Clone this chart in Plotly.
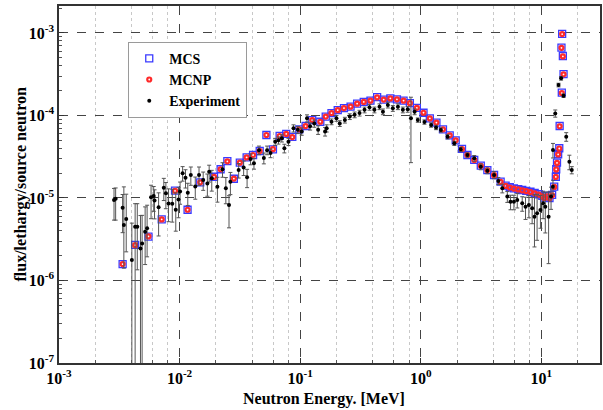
import plotly.graph_objects as go

# ---- simulation data (MCS / MCNP) ----
sim_energy = [0.00337, 0.00428, 0.00552, 0.00711, 0.00917, 0.01165, 0.01483, 0.0193, 0.0219, 0.0249,
              0.0282, 0.0316, 0.036, 0.0407, 0.0462, 0.0525, 0.0595, 0.0676, 0.0767, 0.0861,
              0.0984, 0.111, 0.126, 0.147, 0.163, 0.182, 0.205, 0.231, 0.262, 0.297,
              0.337, 0.383, 0.435, 0.493, 0.56, 0.635, 0.721, 0.813, 0.929, 1.055,
              1.19, 1.35, 1.53, 1.74, 1.95, 2.20, 2.44, 2.78, 3.15, 3.57,
              4.06, 4.60, 5.06, 5.48, 5.93, 6.44, 6.95, 7.50, 8.13, 8.81,
              9.53, 10.2, 10.6, 11.2, 11.7, 12.3, 12.8, 13.2, 13.3, 13.5,
              13.8, 14.1, 14.2, 14.8, 15.3, 15.1, 14.7, 14.9]
mcs_flux = [1.58e-6, 2.7e-6, 3.4e-6, 5.5e-6, 1.23e-5, 7.2e-6, 1.55e-5, 1.81e-5, 2.23e-5, 2.79e-5,
            1.71e-5, 2.68e-5, 3.11e-5, 3.32e-5, 3.71e-5, 5.8e-5, 3.89e-5, 5.65e-5, 5.97e-5, 5.49e-5,
            6.8e-5, 7.46e-5, 8.8e-5, 8.4e-5, 9.7e-5, 1.07e-4, 1.16e-4, 1.23e-4, 1.28e-4, 1.39e-4,
            1.46e-4, 1.51e-4, 1.67e-4, 1.56e-4, 1.61e-4, 1.57e-4, 1.51e-4, 1.41e-4, 1.24e-4, 1.08e-4,
            9.25e-5, 8.2e-5, 6.8e-5, 5.75e-5, 5.0e-5, 3.93e-5, 3.32e-5, 2.89e-5, 2.47e-5, 2.18e-5,
            1.90e-5, 1.58e-5, 1.41e-5, 1.35e-5, 1.31e-5, 1.28e-5, 1.25e-5, 1.22e-5, 1.19e-5, 1.15e-5,
            1.11e-5, 1.06e-5, 1.01e-5, 1.06e-5, 1.0e-5, 1.09e-5, 1.37e-5, 1.81e-5, 2.23e-5, 2.68e-5,
            3.39e-5, 4.01e-5, 7.46e-5, 1.89e-4, 3.18e-4, 5.26e-4, 6.64e-4, 9.73e-4]
mcnp_flux = [1.58e-6, 2.68e-6, 3.42e-6, 5.5e-6, 1.22e-5, 7.2e-6, 1.55e-5, 1.80e-5, 2.23e-5, 2.78e-5,
             1.72e-5, 2.68e-5, 3.10e-5, 3.32e-5, 3.70e-5, 5.8e-5, 3.90e-5, 5.64e-5, 5.97e-5, 5.48e-5,
             6.8e-5, 7.44e-5, 8.8e-5, 8.4e-5, 9.7e-5, 1.07e-4, 1.16e-4, 1.23e-4, 1.28e-4, 1.39e-4,
             1.46e-4, 1.51e-4, 1.66e-4, 1.56e-4, 1.61e-4, 1.57e-4, 1.51e-4, 1.41e-4, 1.24e-4, 1.08e-4,
             9.2e-5, 8.2e-5, 6.8e-5, 5.75e-5, 5.0e-5, 3.92e-5, 3.31e-5, 2.88e-5, 2.46e-5, 2.17e-5,
             1.89e-5, 1.57e-5, 1.40e-5, 1.34e-5, 1.30e-5, 1.27e-5, 1.24e-5, 1.21e-5, 1.18e-5, 1.14e-5,
             1.10e-5, 1.05e-5, 1.0e-5, 1.05e-5, 0.99e-5, 1.08e-5, 1.36e-5, 1.80e-5, 2.22e-5, 2.66e-5,
             3.37e-5, 3.98e-5, 7.4e-5, 1.87e-4, 3.15e-4, 5.2e-4, 6.6e-4, 9.7e-4]

# ---- experiment data ----
exp_energy = [0.00286, 0.00295, 0.00337, 0.00345, 0.00361, 0.00402, 0.00428, 0.00446, 0.00474, 0.00489,
              0.00518, 0.00538, 0.0058, 0.0061, 0.0062, 0.0067, 0.0074, 0.0077, 0.0081, 0.0087,
              0.0093, 0.0098, 0.0101, 0.0106, 0.0112, 0.0117, 0.0124, 0.0135, 0.0145, 0.0157,
              0.0170, 0.0176, 0.0185, 0.0206, 0.0227, 0.0242, 0.0257, 0.0264, 0.0309, 0.034,
              0.0363, 0.0388, 0.0414, 0.0456, 0.05, 0.0532, 0.0568, 0.0621, 0.0661, 0.0705,
              0.074, 0.08, 0.0881, 0.0957, 0.103, 0.114, 0.121, 0.131, 0.141, 0.161,
              0.166, 0.182, 0.2, 0.213, 0.235, 0.258, 0.283, 0.311, 0.342, 0.376,
              0.413, 0.455, 0.486, 0.534, 0.587, 0.647, 0.711, 0.78, 0.83, 0.89,
              0.946, 1.074, 1.22, 1.34, 1.47, 1.67, 1.90, 2.15, 2.44, 2.78,
              3.15, 3.57, 4.06, 4.40, 4.75, 5.23, 5.56, 5.93, 6.32, 6.95,
              7.40, 7.89, 8.40, 8.78, 9.23, 9.84, 10.35, 10.8, 11.5, 12.05,
              12.5, 12.5, 13.06, 13.9, 14.6, 15.3, 16.1, 17.1, 17.9]
exp_flux = [9.46e-6, 9.8e-6, 7.6e-6, 4.7e-6, 5.56e-6, 1.77e-6, 4.49e-6, 4.49e-6, 2.45e-6, 2.8e-6,
            3.9e-6, 4.3e-6, 1.02e-5, 1.06e-5, 9.3e-6, 7.7e-6, 1.33e-5, 1.14e-5, 8.6e-6, 8.5e-6,
            7.2e-6, 9.6e-6, 1.2e-5, 2.0e-5, 1.76e-5, 1.16e-5, 1.9e-5, 1.38e-5, 1.9e-5, 1.65e-5,
            1.5e-5, 2.08e-5, 1.73e-5, 1.37e-5, 2.23e-5, 1.31e-5, 8.2e-6, 1.57e-5, 2.18e-5, 2.34e-5,
            1.78e-5, 2.97e-5, 2.63e-5, 3.8e-5, 3.05e-5, 3.8e-5, 3.5e-5, 4.8e-5, 5.0e-5, 5.3e-5,
            4.0e-5, 4.8e-5, 7.0e-5, 6.7e-5, 6.4e-5, 9.25e-5, 7.4e-5, 8.0e-5, 6.7e-5, 6.4e-5,
            7.0e-5, 8.4e-5, 9.25e-5, 8.0e-5, 8.8e-5, 9.7e-5, 1.02e-4, 1.07e-4, 1.17e-4, 1.26e-4,
            1.17e-4, 1.28e-4, 1.11e-4, 1.34e-4, 1.22e-4, 1.28e-4, 1.17e-4, 1.19e-4, 9.25e-5, 1.11e-4,
            8.8e-5, 8.34e-5, 7.67e-5, 7.16e-5, 6.67e-5, 5.53e-5, 4.6e-5, 3.89e-5, 3.32e-5, 3.03e-5,
            2.39e-5, 2.14e-5, 1.90e-5, 1.61e-5, 1.31e-5, 1.04e-5, 9.0e-6, 9.0e-6, 9.46e-6, 8.63e-6,
            7.85e-6, 8.22e-6, 7.5e-6, 5.93e-6, 6.53e-6, 7.16e-6, 8.63e-6, 7.85e-6, 5.93e-6, 1.04e-5,
            1.37e-5, 3.82e-5, 1.06e-4, 2.34e-4, 2.82e-4, 1.74e-4, 5.53e-5, 2.75e-5, 2.18e-5]
# relative errors (upper / lower)
exp_err_up = [0.38, 0.35, 0.45, 1.9, 1.0, 1.8, 0.9, 0.9, 1.5, 1.2,
              1.0, 0.9, 0.4, 0.3, 0.35, 0.5, 0.3, 0.35, 0.5, 0.5,
              0.6, 0.4, 0.3, 0.2, 0.25, 0.3, 0.25, 0.3, 0.25, 0.25,
              0.3, 0.2, 0.25, 0.3, 0.2, 0.35, 0.3, 0.3, 0.2, 0.2,
              0.25, 0.15, 0.15, 0.12, 0.15, 0.12, 0.12, 0.1, 0.1, 0.1,
              0.12, 0.1, 0.1, 0.1, 0.1, 0.1, 0.1, 0.1, 0.12, 0.12,
              0.1, 0.08, 0.08, 0.08, 0.08, 0.08, 0.08, 0.08, 0.08, 0.08,
              0.08, 0.08, 0.08, 0.08, 0.08, 0.08, 0.08, 0.08, 0.8, 0.08,
              0.06, 0.06, 0.06, 0.06, 0.06, 0.06, 0.06, 0.06, 0.06, 0.08,
              0.08, 0.08, 0.1, 0.1, 0.12, 0.15, 0.2, 0.2, 0.2, 0.2,
              0.3, 0.3, 0.35, 0.85, 0.7, 0.5, 0.4, 0.5, 1.0, 0.3,
              0.2, 0.2, 0.1, 0.05, 0.05, 0.05, 0.12, 0.2, 0.1]
exp_err_dn = [0.43, 0.45, 0.5, 0.7, 0.6, 0.99, 0.99, 0.7, 0.99, 0.99,
              0.6, 0.55, 0.45, 0.35, 0.4, 0.55, 0.3, 0.35, 0.4, 0.4,
              0.45, 0.4, 0.3, 0.2, 0.25, 0.3, 0.25, 0.3, 0.25, 0.25,
              0.3, 0.25, 0.3, 0.35, 0.2, 0.35, 0.47, 0.3, 0.2, 0.2,
              0.25, 0.15, 0.15, 0.12, 0.15, 0.12, 0.12, 0.1, 0.1, 0.1,
              0.12, 0.1, 0.1, 0.1, 0.1, 0.1, 0.1, 0.1, 0.12, 0.12,
              0.1, 0.08, 0.08, 0.08, 0.08, 0.08, 0.08, 0.08, 0.08, 0.08,
              0.08, 0.08, 0.08, 0.08, 0.08, 0.08, 0.08, 0.08, 0.71, 0.08,
              0.06, 0.06, 0.06, 0.06, 0.06, 0.06, 0.06, 0.06, 0.06, 0.08,
              0.08, 0.08, 0.1, 0.1, 0.12, 0.15, 0.2, 0.2, 0.2, 0.2,
              0.3, 0.3, 0.35, 0.57, 0.53, 0.4, 0.35, 0.52, 0.73, 0.3,
              0.2, 0.2, 0.1, 0.05, 0.05, 0.05, 0.12, 0.2, 0.1]

x_tick_vals = [1e-3, 1e-2, 1e-1, 1e0, 1e1]
x_tick_text = ["10<sup>-3</sup>", "10<sup>-2</sup>", "10<sup>-1</sup>", "10<sup>0</sup>", "10<sup>1</sup>"]
y_tick_vals = [1e-7, 1e-6, 1e-5, 1e-4, 1e-3]
y_tick_text = ["10<sup>-7</sup>", "10<sup>-6</sup>", "10<sup>-5</sup>", "10<sup>-4</sup>", "10<sup>-3</sup>"]

FONT = '"Liberation Serif", "Times New Roman", Times, serif'

err_plus = [f * e for f, e in zip(exp_flux, exp_err_up)]
err_minus = [f * e for f, e in zip(exp_flux, exp_err_dn)]

fig = go.Figure()
fig.add_trace(go.Scatter(
    x=sim_energy, y=mcs_flux, mode="markers", name="MCS", legendrank=1,
    marker=dict(symbol="square-open", size=7, color="#3a3aff", line=dict(width=1.3)),
))
fig.add_trace(go.Scatter(
    x=sim_energy, y=mcnp_flux, mode="markers", name="MCNP", legendrank=2,
    marker=dict(symbol="circle-open", size=4, color="#ff2a2a", line=dict(width=2.2)),
))
fig.add_trace(go.Scatter(
    x=exp_energy, y=exp_flux, mode="markers", name="Experiment", legendrank=3,
    marker=dict(symbol="circle", size=4, color="black"),
    error_y=dict(type="data", symmetric=False, array=err_plus, arrayminus=err_minus,
                 color="#555555", thickness=1, width=2),
))

minor_x = [m * 10.0 ** d for d in range(-3, 2) for m in (2, 4, 6, 8)]
minor_y = [m * 10.0 ** d for d in range(-7, -2) for m in range(2, 10)]

fig.update_layout(
    width=603, height=410,
    margin=dict(l=59, r=1, t=6, b=47),
    paper_bgcolor="white", plot_bgcolor="white",
    font=dict(family=FONT, size=15, color="black"),
    showlegend=True,
    legend=dict(
        x=0.128, y=0.9, xanchor="left", yanchor="top",
        bgcolor="white", bordercolor="#9a9a9a", borderwidth=1,
        font=dict(family=FONT, size=14, color="black", weight="bold"),
        traceorder="normal", tracegroupgap=0, itemwidth=30,
    ),
    xaxis=dict(
        type="log", range=[-3, 1.487],
        tickvals=x_tick_vals, ticktext=x_tick_text,
        tickfont=dict(family=FONT, size=16, weight="bold"),
        ticks="inside", ticklen=5, tickcolor="#333",
        showgrid=True, gridcolor="#444444", griddash="dash", gridwidth=1.2,
        showline=True, mirror=True, linecolor="#333333", linewidth=1.5,
        minor=dict(tickvals=minor_x, showgrid=True, gridcolor="#c8c8c8", griddash="dot",
                   gridwidth=1, ticks="inside", ticklen=3, tickcolor="#555"),
        zeroline=False,
    ),
    yaxis=dict(
        type="log", range=[-7, -2.673],
        tickvals=y_tick_vals, ticktext=y_tick_text,
        tickfont=dict(family=FONT, size=16, weight="bold"),
        ticks="inside", ticklen=5, tickcolor="#333",
        showgrid=True, gridcolor="#444444", griddash="dash", gridwidth=1.2,
        showline=True, mirror=True, linecolor="#333333", linewidth=1.5,
        minor=dict(tickvals=minor_y, showgrid=False, ticks="inside", ticklen=3, tickcolor="#555"),
        zeroline=False,
    ),
    annotations=[
        dict(text="<b>Neutron Energy. [MeV]</b>", xref="paper", yref="paper",
             x=0.49, y=0, yshift=-36, xanchor="center", yanchor="middle",
             showarrow=False, font=dict(family=FONT, size=16)),
        dict(text="<b>flux/lethargy/source neutron</b>", xref="paper", yref="paper",
             x=0, xshift=-39, y=0.5, xanchor="center", yanchor="middle", textangle=-90,
             showarrow=False, font=dict(family=FONT, size=16)),
    ],
)

fig.write_html("out.html")
